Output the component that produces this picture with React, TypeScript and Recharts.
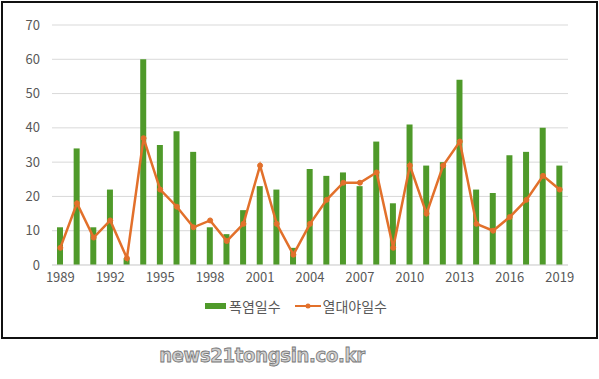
import React from "react";
import { ComposedChart, Bar, Line, XAxis, YAxis, CartesianGrid, Legend } from "recharts";

const years = [
  "1989", "1990", "1991", "1992", "1993", "1994", "1995", "1996", "1997", "1998",
  "1999", "2000", "2001", "2002", "2003", "2004", "2005", "2006", "2007", "2008",
  "2009", "2010", "2011", "2012", "2013", "2014", "2015", "2016", "2017", "2018", "2019",
];
// 폭염일수 (heatwave days)
const heatDays = [11, 34, 11, 22, 2, 60, 35, 39, 33, 11, 9, 16, 23, 22, 5, 28, 26, 27, 23, 36, 18, 41, 29, 30, 54, 22, 21, 32, 33, 40, 29];
// 열대야일수 (tropical nights)
const tropicalNights = [5, 18, 8, 13, 2, 37, 22, 17, 11, 13, 7, 12, 29, 12, 3, 12, 19, 24, 24, 27, 5, 29, 15, 29, 36, 12, 10, 14, 19, 26, 22];
const yTicks = [0, 10, 20, 30, 40, 50, 60, 70];

const GREEN = "#4f9a2a";
const ORANGE = "#e2702b";
const FONT = "'Noto Sans CJK KR', 'Noto Sans', sans-serif";

const data = years.map((y, i) => ({ year: y, heat: heatDays[i], night: tropicalNights[i] }));

function LegendBox() {
  return (
    <div style={{ display: "flex", justifyContent: "center", alignItems: "center", marginTop: 1, fontFamily: FONT, fontSize: 14, color: "#595959", marginLeft: 24 }}>
      <span style={{ display: "inline-block", width: 21, height: 6, background: GREEN, marginRight: 3 }} />
      <span>폭염일수</span>
      <svg width={26} height={10} style={{ marginLeft: 14, marginRight: 2 }}>
        <line x1={0} y1={5} x2={26} y2={5} stroke={ORANGE} strokeWidth={2} />
        <circle cx={13} cy={5} r={2.5} fill={ORANGE} />
      </svg>
      <span>열대야일수</span>
    </div>
  );
}

export default function App() {
  return (
    <div style={{ position: "absolute", left: 0, top: 0, width: 599, height: 379, background: "#fff", overflow: "hidden" }}>
      <div style={{ position: "absolute", left: 1, top: 1, width: 593, height: 334, border: "2px solid #111" }} />
      <div style={{ position: "absolute", left: 0, top: 0 }}>
        <ComposedChart width={596} height={340} data={data} margin={{ top: 25, right: 28, left: 0, bottom: 5 }}>
          <CartesianGrid vertical={false} stroke="#d9d9d9" />
          <XAxis
            dataKey="year"
            interval={2}
            tickLine={false}
            axisLine={{ stroke: "#d9d9d9" }}
            tick={{ fontSize: 13, fill: "#595959", fontFamily: FONT }}
            height={30}
          />
          <YAxis
            domain={[0, 70]}
            ticks={yTicks}
            axisLine={false}
            tickLine={false}
            width={52}
            tickMargin={6}
            tick={{ fontSize: 13, fill: "#595959", fontFamily: FONT }}
          />
          <Legend verticalAlign="bottom" height={40} content={() => <LegendBox />} />
          <Bar dataKey="heat" name="폭염일수" fill={GREEN} barSize={6} isAnimationActive={false} />
          <Line
            dataKey="night"
            name="열대야일수"
            stroke={ORANGE}
            strokeWidth={2.5}
            dot={{ r: 2.5, fill: ORANGE, stroke: ORANGE, strokeWidth: 1 }}
            isAnimationActive={false}
          />
        </ComposedChart>
      </div>
      <div
        style={{
          position: "absolute",
          left: 140,
          top: 343,
          width: 244,
          textAlign: "center",
          fontFamily: "'DejaVu Sans Condensed', 'DejaVu Sans', sans-serif",
          fontSize: 20,
          fontWeight: "bold",
          color: "#d0d0d0",
          WebkitTextStroke: "0.8px #777",
          letterSpacing: -0.3,
        }}
      >
        news21tongsin.co.kr
      </div>
    </div>
  );
}
